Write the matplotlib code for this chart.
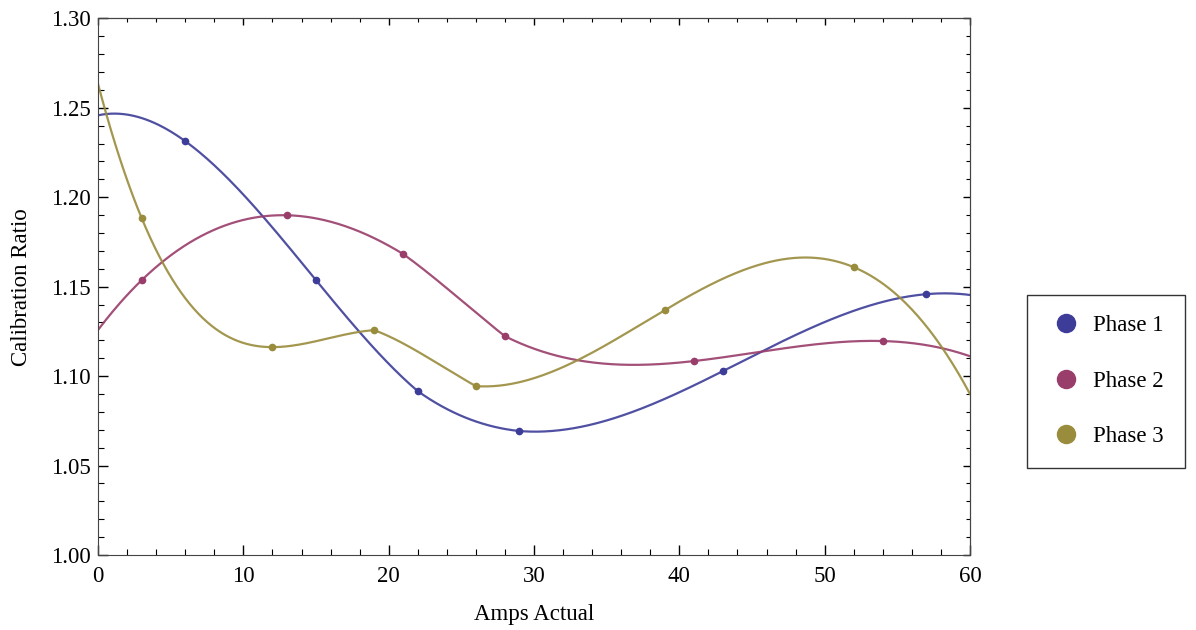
import numpy as np
import matplotlib.pyplot as plt
from matplotlib.lines import Line2D
from matplotlib.ticker import MultipleLocator, NullFormatter

plt.rcParams['font.family'] = ['Liberation Serif', 'DejaVu Serif']

# data
phase1_x = [6, 15, 22, 29, 43, 57]
phase1_y = [1.2313, 1.1536, 1.0916, 1.0693, 1.1028, 1.1458]
phase2_x = [3, 13, 21, 28, 41, 54]
phase2_y = [1.1536, 1.1899, 1.1682, 1.1223, 1.1084, 1.1196]
phase3_x = [3, 12, 19, 26, 39, 52]
phase3_y = [1.1883, 1.1162, 1.1257, 1.0944, 1.1369, 1.1609]
labels = ['Phase 1', 'Phase 2', 'Phase 3']
colors = ['#3d3d99', '#993d6b', '#998c3d']


def interp3(xs, ys, xq):
    '''piecewise cubic through 4 neighbouring points (Mathematica-style)'''
    xs = np.asarray(xs, float)
    ys = np.asarray(ys, float)
    n = len(xs)
    out = np.empty_like(xq)
    for k, x in enumerate(xq):
        i = np.searchsorted(xs, x) - 1
        i = min(max(i - 1, 0), n - 4)
        px, py = xs[i:i + 4], ys[i:i + 4]
        s = 0.0
        for a in range(4):
            t = py[a]
            for b in range(4):
                if a != b:
                    t *= (x - px[b]) / (px[a] - px[b])
            s += t
        out[k] = s
    return out


fig = plt.figure(figsize=(11.96, 6.3), dpi=100)
ax = fig.add_axes([0.082, 0.119, 0.729, 0.852])

fs = 16.5
xq = np.linspace(0, 60, 600)
handles = []
for xs, ys, c, lab in zip([phase1_x, phase2_x, phase3_x],
                          [phase1_y, phase2_y, phase3_y], colors, labels):
    ax.plot(xq, interp3(xs, ys, xq), color=c, lw=1.6, alpha=0.9)
    ax.plot(xs, ys, 'o', color=c, ms=4.5)
    handles.append(Line2D([], [], ls='none', marker='o', color=c, ms=13, label=lab))

ax.set_xlim(0, 60)
ax.set_ylim(1.0, 1.3)
ax.xaxis.set_major_locator(MultipleLocator(10))
ax.xaxis.set_minor_locator(MultipleLocator(2))
ax.yaxis.set_major_locator(MultipleLocator(0.05))
ax.yaxis.set_minor_locator(MultipleLocator(0.01))
ax.yaxis.set_major_formatter(plt.FormatStrFormatter('%.2f'))
ax.tick_params(which='both', direction='in', labelsize=fs)
ax.tick_params(which='major', length=7, width=1)
ax.tick_params(which='minor', length=4, width=0.8)
ax.tick_params(axis='x', pad=8)
ax.tick_params(axis='y', pad=5)
for s in ax.spines.values():
    s.set_color('#444444')

# shorter ticks on the top and right frame edges
top = ax.secondary_xaxis('top')
right = ax.secondary_yaxis('right')
for sec, axis in ((top, top.xaxis), (right, right.yaxis)):
    axis.set_major_locator(MultipleLocator(10 if sec is top else 0.05))
    axis.set_minor_locator(MultipleLocator(2 if sec is top else 0.01))
    axis.set_major_formatter(NullFormatter())
    sec.tick_params(which='both', direction='in')
    sec.tick_params(which='major', length=5, width=1)
    sec.tick_params(which='minor', length=3, width=0.8)
    for s in sec.spines.values():
        s.set_color('#444444')

ax.set_xlabel('Amps Actual', fontsize=fs, labelpad=12)
ax.set_ylabel('Calibration Ratio', fontsize=fs, labelpad=14)

leg = fig.legend(handles=handles, loc='center left', bbox_to_anchor=(0.8587, 0.395),
                 frameon=True, fancybox=False, fontsize=fs, handletextpad=0.4,
                 labelspacing=1.5, borderpad=0.9, handlelength=1.6,
                 borderaxespad=0)
leg.get_frame().set_edgecolor('black')
leg.get_frame().set_linewidth(1.0)

fig.savefig('out.png', dpi=100)
